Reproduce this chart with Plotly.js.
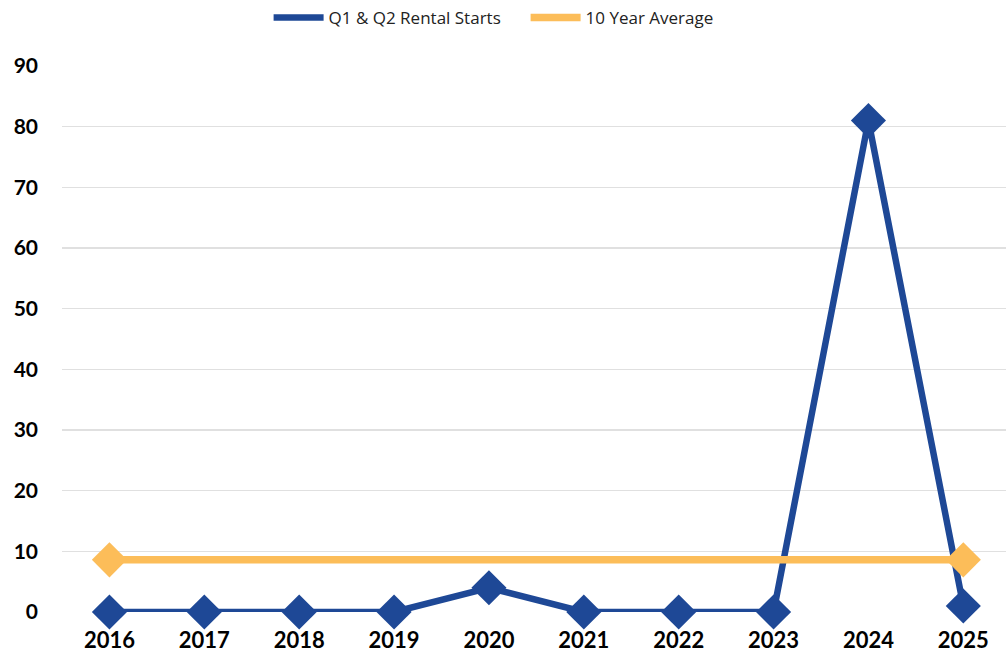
<!DOCTYPE html>
<html>
<head>
<meta charset="utf-8">
<script src="https://cdn.plot.ly/plotly-3.0.1.min.js"></script>
<style>html,body{margin:0;padding:0;background:#fff;}#chart{width:1006px;height:660px;}</style>
</head>
<body>
<div id="chart"></div>
<script>
const years = ["2016","2017","2018","2019","2020","2021","2022","2023","2024","2025"];
const rentalStarts = [0, 0, 0, 0, 4, 0, 0, 0, 81, 1];
const tenYearAverage = [8.6, 8.6, 8.6, 8.6, 8.6, 8.6, 8.6, 8.6, 8.6, 8.6];
const yTicks = [0, 10, 20, 30, 40, 50, 60, 70, 80, 90];

const blue = "#1e4896";
const orange = "#fcbd59";

const avgEndX = [years[0], years[years.length - 1]];
const avgEndY = [tenYearAverage[0], tenYearAverage[tenYearAverage.length - 1]];

const traces = [
  {x: years, y: rentalStarts, type: "scatter", mode: "lines",
   name: "Q1 &amp; Q2 Rental Starts", line: {color: blue, width: 6.5}, cliponaxis: false},
  {x: years, y: tenYearAverage, type: "scatter", mode: "lines",
   name: "10 Year Average", line: {color: orange, width: 7.5}, cliponaxis: false},
  {x: avgEndX, y: avgEndY, type: "scatter", mode: "markers", showlegend: false,
   marker: {symbol: "diamond", size: 27, color: orange}, cliponaxis: false},
  {x: years, y: rentalStarts, type: "scatter", mode: "markers", showlegend: false,
   marker: {symbol: "diamond", size: 27, color: blue}, cliponaxis: false}
];

const layout = {
  width: 1006, height: 660,
  margin: {l: 62, r: 0, t: 66, b: 48},
  paper_bgcolor: "#fff", plot_bgcolor: "#fff",
  font: {family: "Lato, 'Open Sans', sans-serif", color: "#000"},
  showlegend: true,
  legend: {orientation: "h", x: 0.267, xanchor: "left", xref: "container",
           y: 1, yanchor: "top", yref: "container",
           font: {family: "'Open Sans', Lato, sans-serif", size: 17, color: "#222"},
           itemwidth: 50, entrywidth: 192, traceorder: "normal"},
  xaxis: {type: "category", range: [-0.5, 9.45], showgrid: false, zeroline: false,
          showline: false, ticks: "", ticklabelstandoff: 13,
          tickfont: {family: "Lato, sans-serif", size: 22, weight: "bold", color: "#000"}},
  yaxis: {range: [0, 90], tickvals: yTicks, showgrid: true, gridcolor: "#e0e0e0", gridwidth: 1.5,
          zeroline: false, showline: false, ticks: "", ticklabelstandoff: 23,
          tickfont: {family: "Lato, sans-serif", size: 21, weight: "bold", color: "#000"}}
};

Plotly.newPlot("chart", traces, layout, {displayModeBar: false, staticPlot: true});
</script>
</body>
</html>
